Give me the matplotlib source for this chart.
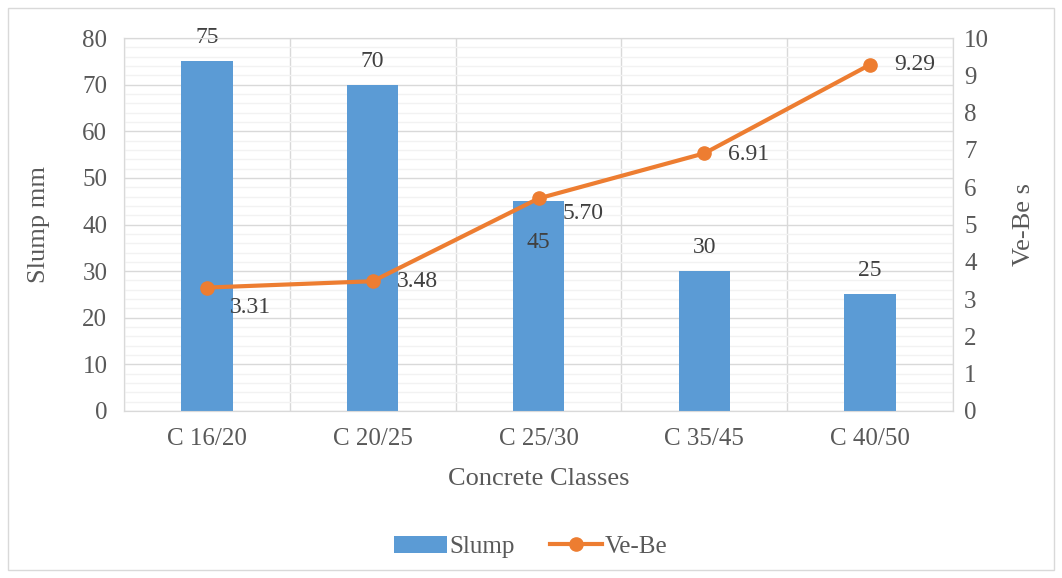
import matplotlib.pyplot as plt
import numpy as np
from matplotlib.patches import Rectangle
from matplotlib.ticker import MultipleLocator

classes = ['C 16/20', 'C 20/25', 'C 25/30', 'C 35/45', 'C 40/50']
slump = [75, 70, 45, 30, 25]
vebe = [3.31, 3.48, 5.70, 6.91, 9.29]

bar_color = '#5B9BD5'
line_color = '#ED7D31'
text_color = '#595959'

plt.rcParams['font.family'] = ['Liberation Serif', 'DejaVu Serif']

fig = plt.figure(figsize=(10.62, 5.78), dpi=100)
ax = fig.add_axes([0.1168, 0.289, 0.7806, 0.645])
ax2 = ax.twinx()

x = np.arange(len(classes))
ax.bar(x, slump, width=0.31, color=bar_color, zorder=3, label='Slump')
ax2.plot(x, vebe, color=line_color, lw=3, marker='o', ms=9.5, zorder=4,
         label='Ve-Be')

ax.set_xlim(-0.5, len(classes) - 0.5)
ax.set_ylim(0, 80)
ax2.set_ylim(0, 10)
ax.yaxis.set_major_locator(MultipleLocator(10))
ax.yaxis.set_minor_locator(MultipleLocator(2))
ax2.yaxis.set_major_locator(MultipleLocator(1))

# gridlines: minor every 2 mm, major every 10 mm, vertical lines between classes
ax.grid(which='minor', axis='y', color='#F2F2F2', lw=1, zorder=0)
ax.grid(which='major', axis='y', color='#D9D9D9', lw=1, zorder=1)
ax.set_xticks(x)
ax.set_xticks(np.arange(-0.5, len(classes)), minor=True)
ax.grid(which='minor', axis='x', color='#D9D9D9', lw=1, zorder=1)
ax.set_xticklabels(classes)

for a in (ax, ax2):
    for s in a.spines.values():
        s.set_color('#D9D9D9')
    a.tick_params(which='both', length=0, colors=text_color, labelsize=18)
ax.tick_params(axis='x', pad=12)
ax.tick_params(axis='y', pad=12)
ax2.tick_params(axis='y', pad=8)

ax.set_xlabel('Concrete Classes', color=text_color, fontsize=19, labelpad=13)
ax.set_ylabel('Slump mm', color=text_color, fontsize=19, labelpad=23)
ax2.set_ylabel('Ve-Be s', color=text_color, fontsize=19, labelpad=17)

# bar labels (offsets in points)
bar_offsets = [(0, 17), (0, 17), (0, -30), (0, 17), (0, 17)]
for xi, v, off in zip(x, slump, bar_offsets):
    ax.annotate(f'{v}', (xi, v), xytext=off, textcoords='offset points',
                ha='center', va='center', color='#404040', fontsize=17,
                zorder=5)

# line labels
line_offsets = [(31, -14), (32, 0), (32, -11), (32, -1), (32, 0)]
for xi, v, off in zip(x, vebe, line_offsets):
    ax2.annotate(f'{v:.2f}', (xi, v), xytext=off, textcoords='offset points',
                 ha='center', va='center', color='#404040', fontsize=17,
                 zorder=5)

h1, l1 = ax.get_legend_handles_labels()
h2, l2 = ax2.get_legend_handles_labels()
leg = fig.legend(h1 + h2, l1 + l2, loc='center', bbox_to_anchor=(0.5, 0.054),
                 ncol=2, frameon=False, fontsize=18, handlelength=2.1,
                 columnspacing=1.4, handletextpad=0.1)
for t in leg.get_texts():
    t.set_color(text_color)

fig.patches.append(Rectangle((0.008, 0.014), 0.984, 0.972,
                             transform=fig.transFigure, fill=False,
                             edgecolor='#D9D9D9', lw=1))

fig.savefig('out.png', dpi=100)
